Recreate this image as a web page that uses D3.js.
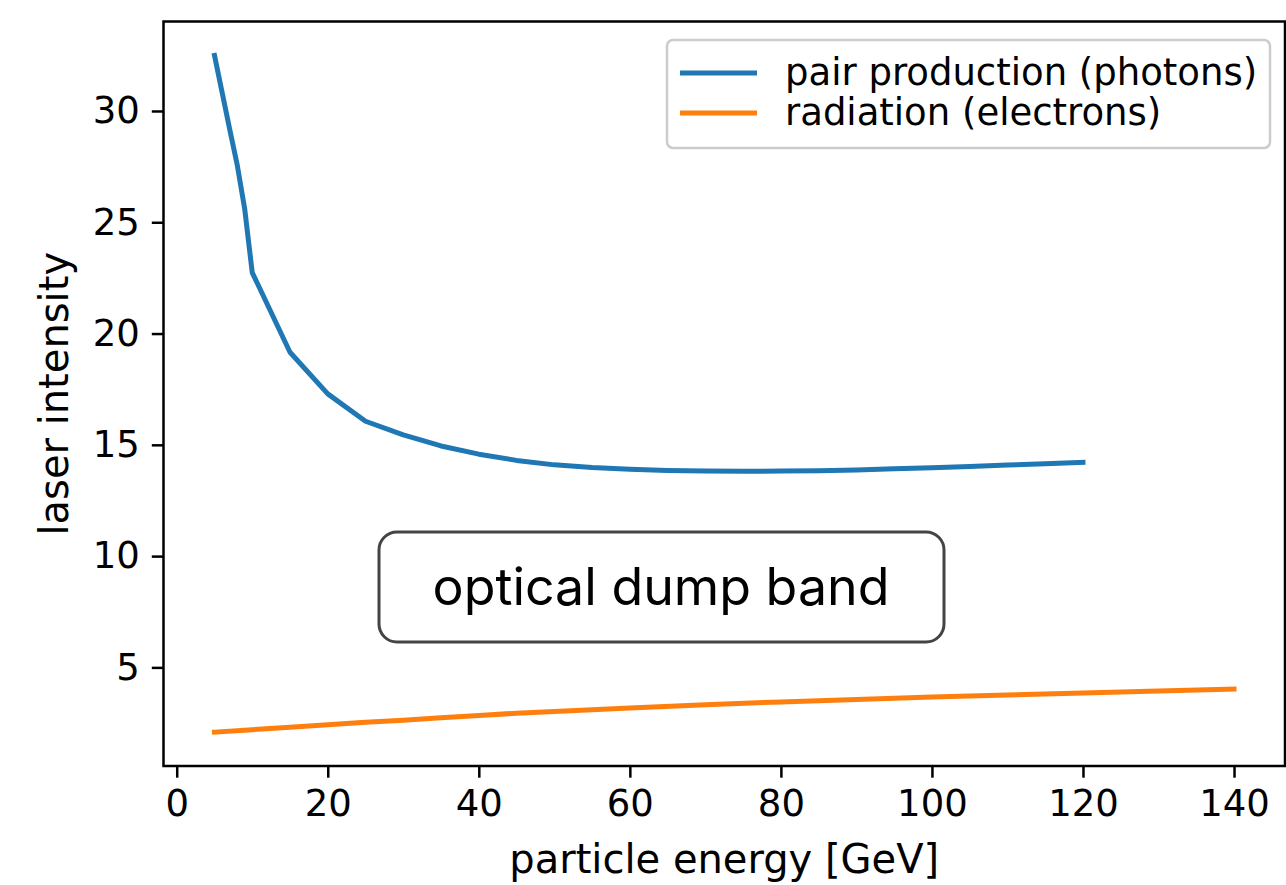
<!DOCTYPE html>
<html>
<head>
<meta charset="utf-8">
<script src="https://cdn.jsdelivr.net/npm/d3@7"></script>
<style>
  body { margin: 0; background: #fff; }
  svg text { font-family: "DejaVu Sans", sans-serif; fill: #000; }
</style>
</head>
<body>
<svg id="chart" width="1286" height="885"></svg>
<script>
'use strict';

// data
const pairEnergy = [5, 6, 7, 8, 9, 10, 15, 20, 25, 30, 35, 40, 45, 50, 55, 60, 65, 70, 75, 80, 85, 90, 95, 100, 105, 110, 115, 120];
const pairIntensity = [32.5, 30.85, 29.2, 27.6, 25.6, 22.74, 19.16, 17.29, 16.06, 15.45, 14.95, 14.58, 14.3, 14.1, 13.98, 13.9, 13.85, 13.82, 13.81, 13.82, 13.84, 13.87, 13.92, 13.97, 14.03, 14.09, 14.15, 14.21];
const radEnergy = [5, 10, 15, 20, 25, 30, 35, 40, 45, 50, 60, 70, 80, 90, 100, 110, 120, 130, 140];
const radIntensity = [2.09, 2.2, 2.31, 2.42, 2.53, 2.63, 2.74, 2.84, 2.94, 3.02, 3.17, 3.32, 3.45, 3.56, 3.67, 3.76, 3.85, 3.94, 4.03];
const seriesNames = ['pair production (photons)', 'radiation (electrons)'];
const seriesColors = ['#1f77b4', '#ff7f0e'];
const xTicks = [0, 20, 40, 60, 80, 100, 120, 140];
const yTicks = [5, 10, 15, 20, 25, 30];
const bandLabel = 'optical dump band';

const plotLeft = 163.5, plotRight = 1285, plotTop = 21.5, plotBottom = 766;
const fs = 37;      // ticks and legend
const labelFs = 40; // axis titles

const svg = d3.select('#chart');

// matplotlib style 5% margins
let allX = pairEnergy.concat(radEnergy);
let allY = pairIntensity.concat(radIntensity);
let [x0, x1] = d3.extent(allX);
let [y0, y1] = d3.extent(allY);
let mx = (x1 - x0) * 0.05, my = (y1 - y0) * 0.05;

const x = d3.scaleLinear().domain([x0 - mx, x1 + mx]).range([plotLeft, plotRight]);
const y = d3.scaleLinear().domain([y0 - my, y1 + my]).range([plotBottom, plotTop]);

// lines
const line = d3.line().x(d => x(d[0])).y(d => y(d[1]));
const series = [
    d3.zip(pairEnergy, pairIntensity),
    d3.zip(radEnergy, radIntensity)
];
svg.selectAll('path.series')
    .data(series)
    .enter().append('path')
    .attr('class', 'series')
    .attr('d', line)
    .attr('fill', 'none')
    .attr('stroke', (d, i) => seriesColors[i])
    .attr('stroke-width', 5)
    .attr('stroke-linecap', 'square')
    .attr('stroke-linejoin', 'round');

// axes
const xAxis = svg.append('g')
    .attr('transform', `translate(0,${plotBottom})`)
    .call(d3.axisBottom(x).tickValues(xTicks).tickSize(11.7).tickPadding(12));
const yAxis = svg.append('g')
    .attr('transform', `translate(${plotLeft},0)`)
    .call(d3.axisLeft(y).tickValues(yTicks).tickSize(11.7).tickPadding(12));
[xAxis, yAxis].forEach(g => {
    g.selectAll('.domain').remove();
    g.selectAll('line').attr('stroke', '#000').attr('stroke-width', 2.5);
    g.selectAll('text').attr('font-size', fs).attr('font-family', '"DejaVu Sans", sans-serif');
});

// frame
svg.append('rect')
    .attr('x', plotLeft).attr('y', plotTop)
    .attr('width', plotRight - plotLeft).attr('height', plotBottom - plotTop)
    .attr('fill', 'none').attr('stroke', '#000').attr('stroke-width', 2.5);

// axis labels
svg.append('text')
    .attr('x', (plotLeft + plotRight) / 2).attr('y', 873)
    .attr('text-anchor', 'middle').attr('font-size', labelFs)
    .text('particle energy [GeV]');
svg.append('text')
    .attr('transform', `translate(68,${(plotTop + plotBottom) / 2}) rotate(-90)`)
    .attr('text-anchor', 'middle').attr('font-size', labelFs)
    .text('laser intensity');

// legend
const lg = svg.append('g');
lg.append('rect')
    .attr('x', 667).attr('y', 40).attr('width', 603).attr('height', 108)
    .attr('rx', 6).attr('fill', '#fff').attr('fill-opacity', 0.8)
    .attr('stroke', '#cccccc').attr('stroke-width', 2.5);
seriesNames.forEach((name, i) => {
    let ly = 73 + i * 40;
    lg.append('line')
        .attr('x1', 680).attr('x2', 757).attr('y1', ly).attr('y2', ly)
        .attr('stroke', seriesColors[i]).attr('stroke-width', 5);
    lg.append('text')
        .attr('x', 785).attr('y', ly + 12)
        .attr('font-size', fs)
        .text(name);
});

// annotation box
svg.append('rect')
    .attr('x', 379).attr('y', 532).attr('width', 565).attr('height', 110)
    .attr('rx', 18).attr('fill', '#fff')
    .attr('stroke', '#444').attr('stroke-width', 3);
const band = svg.append('text')
    .attr('x', 661).attr('y', 605)
    .attr('text-anchor', 'middle')
    .style('font-family', 'Inter, "Noto Sans", sans-serif')
    .attr('font-weight', 400)
    .attr('font-size', 40)
    .text(bandLabel);
// fit the label width to the box like the original
let w = band.node().getComputedTextLength();
band.attr('font-size', 40 * 457 / w);
</script>
</body>
</html>
